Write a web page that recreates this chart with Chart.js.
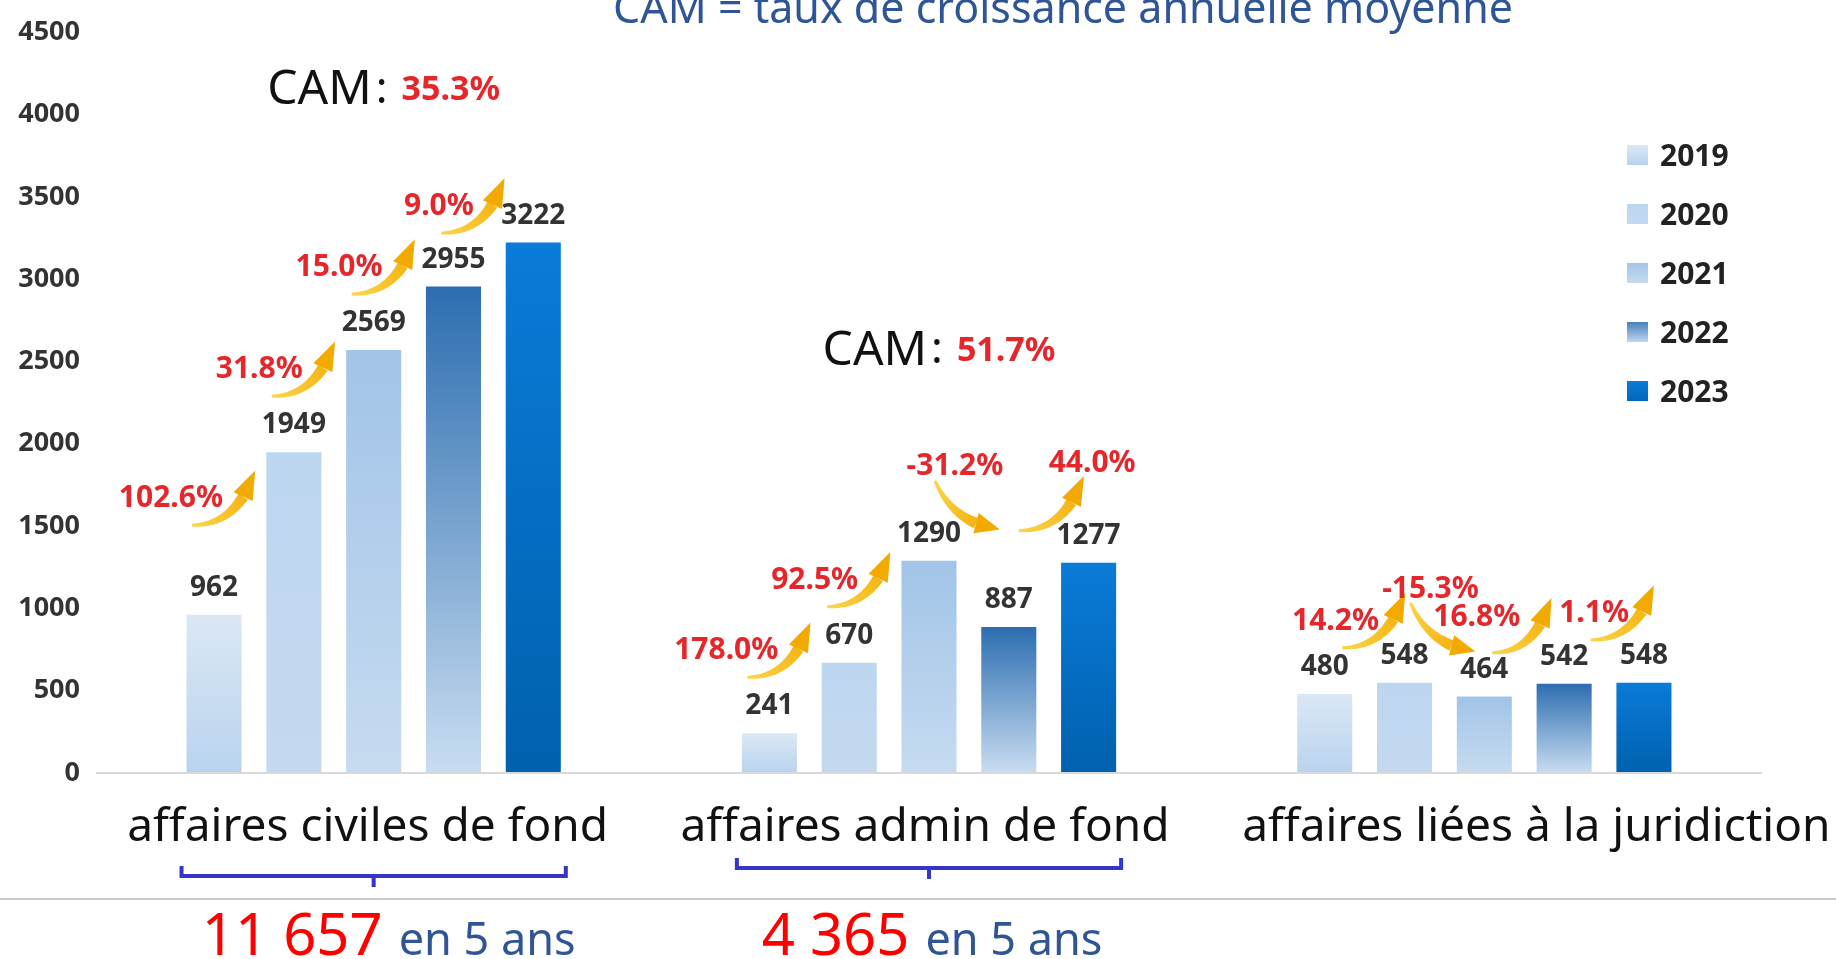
<!DOCTYPE html>
<html lang="fr">
<head>
<meta charset="utf-8">
<title>CAM - affaires 2019-2023</title>
<script src="https://cdn.jsdelivr.net/npm/chart.js@4.4.1/dist/chart.umd.min.js"></script>
<style>
  html, body { margin: 0; padding: 0; background: #fff; }
  #wrap { width: 1836px; height: 959px; position: relative; }
</style>
</head>
<body>
<div id="wrap"><canvas id="chart"></canvas></div>
<script>
// --- data ---
const categories = ['affaires civiles de fond', 'affaires admin de fond', 'affaires liées à la juridiction'];
const years = ['2019', '2020', '2021', '2022', '2023'];
const values2019 = [962, 241, 480];
const values2020 = [1949, 670, 548];
const values2021 = [2569, 1290, 464];
const values2022 = [2955, 887, 542];
const values2023 = [3222, 1277, 548];
// year over year growth, one list per category
const growthCivil = ['102.6%', '31.8%', '15.0%', '9.0%'];
const growthAdmin = ['178.0%', '92.5%', '-31.2%', '44.0%'];
const growthJuri = ['14.2%', '-15.3%', '16.8%', '1.1%'];
const camValues = ['35.3%', '51.7%', null];
const showTotal = [true, true, false];
const yMax = 4500;
const yStep = 500;

const seriesValues = [values2019, values2020, values2021, values2022, values2023];
const growthByGroup = [growthCivil, growthAdmin, growthJuri];

// top / bottom colour of each year's bar
const barColors = [
  ['#dbe8f5', '#b9d3ee'],
  ['#bdd6ef', '#c4d9f0'],
  ['#a2c4e8', '#c6dbf0'],
  ['#2c6db0', '#c9ddf1'],
  ['#0a7bd8', '#0061ae']
];
const red = '#e5262b';
const FONT = '"Noto Sans", sans-serif';
// small layout nudges for the texts under the axis
const labelShift = [-6, -4, 52];
const bracketY = [876, 868];
const totalShift = [15, 3];

Chart.defaults.font.family = FONT;

function barFill(context, i) {
  const chart = context.chart;
  const c = barColors[i];
  if (!chart.chartArea || context.raw == null) return c[1];
  const y = chart.scales.y;
  const g = chart.ctx.createLinearGradient(0, y.getPixelForValue(context.raw), 0, y.getPixelForValue(0));
  g.addColorStop(0, c[0]);
  g.addColorStop(1, c[1]);
  return g;
}

function put(ctx, text, x, y, size, weight, color, align) {
  ctx.font = weight + ' ' + size + 'px ' + FONT;
  ctx.fillStyle = color;
  ctx.textAlign = align || 'center';
  ctx.textBaseline = 'alphabetic';
  ctx.fillText(text, x, y + size * 0.36);
  return ctx.measureText(text).width;
}

function measure(ctx, text, size, weight) {
  ctx.font = weight + ' ' + size + 'px ' + FONT;
  return ctx.measureText(text).width;
}

// curved yellow arrow, tapered tail
function arrow(ctx, x0, y0, x1, y1, down) {
  const dx = x1 - x0, dy = y1 - y0;
  const cx = down ? x0 + dx * 0.3 : x0 + dx * 0.72;
  const cy = down ? y1 - dy * 0.12 : y0;
  const q = t => [
    (1 - t) * (1 - t) * x0 + 2 * (1 - t) * t * cx + t * t * x1,
    (1 - t) * (1 - t) * y0 + 2 * (1 - t) * t * cy + t * t * y1
  ];
  const tEnd = 0.74, n = 18;
  const left = [], right = [];
  for (let i = 0; i <= n; i++) {
    const t = tEnd * i / n;
    const p = q(t), p2 = q(t + 0.01);
    let tx = p2[0] - p[0], ty = p2[1] - p[1];
    const l = Math.hypot(tx, ty); tx /= l; ty /= l;
    const w = 1.4 + 4.2 * i / n;
    left.push([p[0] - ty * w, p[1] + tx * w]);
    right.push([p[0] + ty * w, p[1] - tx * w]);
  }
  const grad = ctx.createLinearGradient(x0, y0, x1, y1);
  grad.addColorStop(0, '#fbd54a');
  grad.addColorStop(1, '#f2a900');
  ctx.fillStyle = grad;
  ctx.beginPath();
  left.forEach((p, i) => i ? ctx.lineTo(p[0], p[1]) : ctx.moveTo(p[0], p[1]));
  right.reverse().forEach(p => ctx.lineTo(p[0], p[1]));
  ctx.closePath();
  ctx.fill();
  // head
  const b = q(tEnd);
  let hx = x1 - b[0], hy = y1 - b[1];
  const hl = Math.hypot(hx, hy); hx /= hl; hy /= hl;
  const hw = 10.5;
  ctx.beginPath();
  ctx.moveTo(x1 + hx * 3, y1 + hy * 3);
  ctx.lineTo(b[0] - hy * hw, b[1] + hx * hw);
  ctx.lineTo(b[0] + hy * hw, b[1] - hx * hw);
  ctx.closePath();
  ctx.fillStyle = '#f2a900';
  ctx.fill();
}

const annotate = {
  id: 'annotate',
  afterDatasetsDraw(chart) {
    const { ctx, scales } = chart;
    const xs = scales.x;
    const metas = years.map((y, i) => chart.getDatasetMeta(i));
    ctx.save();

    // title (partly cut at the top, as in the slide)
    put(ctx, 'CAM = taux de croissance annuelle moyenne', 1063, 8, 43, 'normal', '#2f5597');

    // value labels
    metas.forEach((meta, d) => {
      meta.data.forEach((el, g) => {
        put(ctx, String(seriesValues[d][g]), el.x, el.y - 29, 28, 'bold', '#333');
      });
    });

    // growth arrows + CAM
    categories.forEach((cat, g) => {
      let topLabel = Infinity;
      let prevDownCy = null;
      const list = growthByGroup[g];
      list.forEach((txt, t) => {
        const a = metas[t].data[g], b = metas[t + 1].data[g];
        const mid = (a.x + b.x) / 2;
        const down = txt.startsWith('-');
        if (down) {
          const cy = a.y - 56;
          arrow(ctx, mid - 34, cy - 24, mid + 28, cy + 24, true);
          put(ctx, txt, mid - 14, cy - 40, 30, 'bold', red, 'center');
          topLabel = Math.min(topLabel, cy - 40);
          prevDownCy = cy;
        } else if (prevDownCy !== null) {
          // rebound after a drop: same height as the drop arrow
          const cy = prevDownCy;
          if (t === list.length - 1) {
            arrow(ctx, mid - 30, cy + 26, mid + 34, cy - 26, false);
            put(ctx, txt, mid, cy - 43, 30, 'bold', red, 'left');
          } else {
            arrow(ctx, mid - 32, cy + 26, mid + 26, cy - 26, false);
            put(ctx, txt, mid - 4, cy - 12, 30, 'bold', red, 'right');
          }
          prevDownCy = null;
        } else {
          let cy = Math.min(a.y - 82, b.y + 47);
          // push the arrow to the right when it clears the next value label
          const labelTop = b.y - 43;
          const s = 0.9 * Math.max(0, labelTop - (cy - 26) - 10);
          cy += s * 0.25;
          arrow(ctx, mid - 62 + s, cy + 26, mid + s, cy - 26, false);
          put(ctx, txt, mid - 31 + s * 1.15, cy - 3, 30, 'bold', red, 'right');
          topLabel = Math.min(topLabel, cy - 3);
        }
      });
      if (camValues[g]) {
        const w1 = measure(ctx, 'CAM', 48, 'normal');
        const w2 = measure(ctx, ':', 44, 'normal');
        const w3 = measure(ctx, camValues[g], 34, 'bold');
        const total = w1 + 4 + w2 + 14 + w3;
        let x = xs.getPixelForValue(g) + 10 - total / 2;
        const y = topLabel - 117;
        put(ctx, 'CAM', x, y, 48, 'normal', '#111', 'left');
        x += w1 + 4;
        put(ctx, ':', x, y, 44, 'normal', '#111', 'left');
        x += w2 + 14;
        put(ctx, camValues[g], x, y + 1, 34, 'bold', red, 'left');
      }
    });

    // legend
    years.forEach((yr, i) => {
      const cy = 155 + i * 59;
      const c = barColors[i];
      const g = ctx.createLinearGradient(0, cy - 10, 0, cy + 10);
      g.addColorStop(0, i === 3 ? '#4680bd' : c[0]);
      g.addColorStop(1, i === 4 ? '#0068bb' : (i === 3 ? '#c0d7ef' : c[1]));
      ctx.fillStyle = g;
      ctx.fillRect(1627, cy - 10, 21, 20);
      put(ctx, yr, 1660, cy, 30, 'bold', '#222', 'left');
    });

    // category labels
    categories.forEach((cat, g) => {
      ctx.font = 'normal 46px ' + FONT;
      ctx.fillStyle = '#111';
      ctx.textAlign = 'center';
      ctx.textBaseline = 'alphabetic';
      ctx.fillText(cat, xs.getPixelForValue(g) + labelShift[g], 841);
    });

    // brackets and totals
    ctx.strokeStyle = '#3535c8';
    ctx.lineWidth = 4;
    ctx.lineCap = 'butt';
    categories.forEach((cat, g) => {
      if (!showTotal[g]) return;
      const first = metas[0].data[g], last = metas[years.length - 1].data[g];
      const l = first.x - first.width / 2 - 5;
      const r = last.x + last.width / 2 + 5;
      const c = (l + r) / 2;
      const by = bracketY[g];
      ctx.beginPath();
      ctx.moveTo(l, by - 10); ctx.lineTo(l, by); ctx.lineTo(r, by); ctx.lineTo(r, by - 10);
      ctx.moveTo(c, by); ctx.lineTo(c, by + 11);
      ctx.stroke();

      const sum = seriesValues.reduce((s, arr) => s + arr[g], 0);
      const num = String(sum).replace(/\B(?=(\d{3})+(?!\d))/g, ' ');
      const w1 = measure(ctx, num, 58, 'normal');
      const w2 = measure(ctx, 'en 5 ans', 45, 'normal');
      const start = c + totalShift[g] - (w1 + 16 + w2) / 2;
      ctx.textBaseline = 'alphabetic';
      ctx.textAlign = 'left';
      ctx.font = 'normal 58px ' + FONT;
      ctx.fillStyle = '#ff0000';
      ctx.fillText(num, start, 955);
      ctx.font = 'normal 45px ' + FONT;
      ctx.fillStyle = '#2f5597';
      ctx.fillText('en 5 ans', start + w1 + 16, 955);
    });

    // separator line
    ctx.strokeStyle = '#cacaca';
    ctx.lineWidth = 2;
    ctx.beginPath();
    ctx.moveTo(0, 899); ctx.lineTo(chart.width, 899);
    ctx.stroke();

    ctx.restore();
  }
};

new Chart(document.getElementById('chart'), {
  type: 'bar',
  data: {
    labels: categories,
    datasets: years.map((yr, i) => ({
      label: yr,
      data: seriesValues[i],
      backgroundColor: ctx => barFill(ctx, i),
      barPercentage: 0.69,
      categoryPercentage: 0.7185
    }))
  },
  options: {
    responsive: true,
    maintainAspectRatio: false,
    animation: false,
    layout: { padding: { top: 26, right: 74, bottom: 186, left: 0 } },
    plugins: {
      legend: { display: false },
      tooltip: { enabled: false },
      title: { display: false }
    },
    scales: {
      x: { display: false },
      y: {
        min: 0,
        max: yMax,
        ticks: {
          stepSize: yStep,
          padding: 16,
          color: '#333',
          font: { size: 27, weight: 'bold' },
          callback: v => String(v)
        },
        grid: {
          drawTicks: false,
          lineWidth: 2,
          color: c => (c.tick && c.tick.value === 0) ? '#d9d9d9' : 'rgba(0,0,0,0)'
        },
        border: { display: false },
        afterFit: s => { s.width = 96; }
      }
    }
  },
  plugins: [annotate]
});
</script>
</body>
</html>
